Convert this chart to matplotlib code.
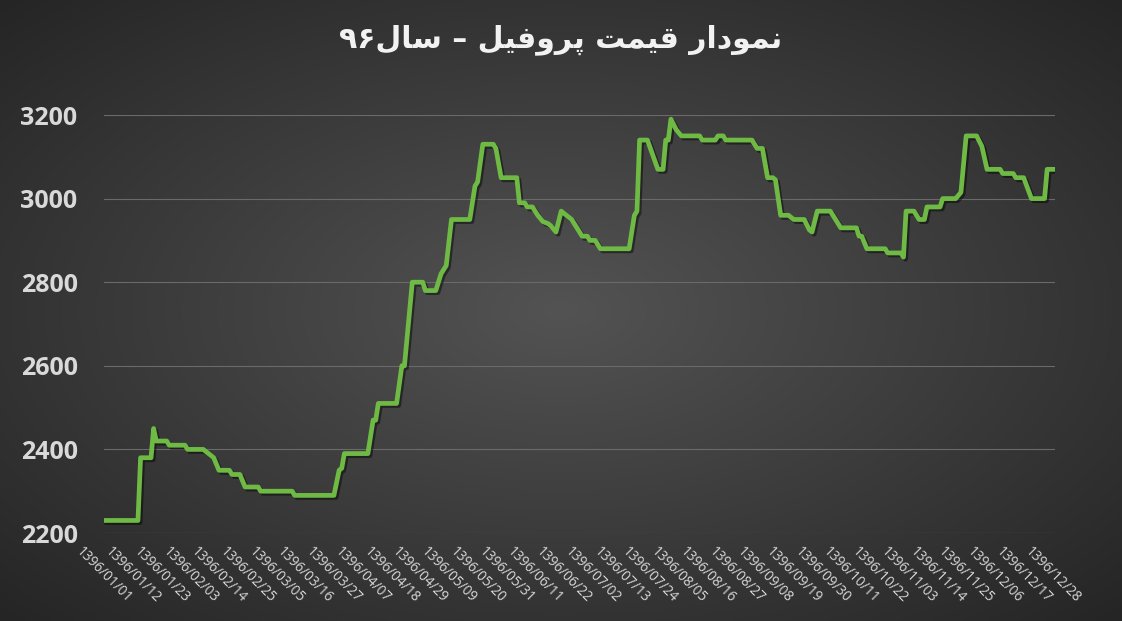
import numpy as np
import matplotlib
matplotlib.use("Agg")
import matplotlib.pyplot as plt
import matplotlib.patheffects as pe
import matplotlib.transforms as mtransforms

# day of year (1396/01/01 = 0) and profile price
day_of_year = [0, 13, 14, 18, 19, 20, 24, 25, 31, 32, 38, 40, 42, 44, 48, 49, 52, 54, 59, 60,
               72, 73, 88, 90, 91, 92, 101, 103, 104, 105, 112, 114, 115, 118, 122, 123, 127, 128, 129, 131,
               133, 140, 142, 143, 145, 149, 150, 152, 158, 159, 161, 162, 164, 166, 168, 170, 171, 173, 175, 177,
               179, 181, 183, 185, 186, 188, 190, 201, 203, 204, 205, 208, 212, 214, 215, 216, 217, 219, 221, 228,
               229, 234, 235, 237, 238, 248, 250, 252, 253, 254, 256, 257, 259, 262, 264, 268, 270, 271, 273, 278,
               279, 280, 282, 288, 289, 290, 292, 299, 300, 305, 306, 307, 310, 312, 314, 315, 320, 321, 326, 328,
               330, 334, 336, 338, 343, 344, 348, 349, 352, 355, 360, 361, 364]
price = [2230, 2230, 2380, 2380, 2450, 2420, 2420, 2410, 2410, 2400, 2400, 2390, 2380, 2350, 2350, 2340, 2340, 2310, 2310, 2300,
         2300, 2290, 2290, 2350, 2355, 2390, 2390, 2470, 2470, 2510, 2510, 2600, 2600, 2800, 2800, 2780, 2780, 2800, 2820, 2840,
         2950, 2950, 3030, 3040, 3130, 3130, 3120, 3050, 3050, 2990, 2990, 2980, 2980, 2960, 2945, 2940, 2935, 2920, 2970, 2960,
         2950, 2930, 2910, 2910, 2900, 2900, 2880, 2880, 2960, 2970, 3140, 3140, 3070, 3070, 3140, 3140, 3190, 3165, 3150, 3150,
         3140, 3140, 3150, 3150, 3140, 3140, 3120, 3120, 3085, 3050, 3050, 3045, 2960, 2960, 2950, 2950, 2925, 2920, 2970, 2970,
         2960, 2950, 2930, 2930, 2910, 2910, 2880, 2880, 2870, 2870, 2860, 2970, 2970, 2950, 2950, 2980, 2980, 3000, 3000, 3015,
         3150, 3150, 3125, 3070, 3070, 3060, 3060, 3050, 3050, 3000, 3000, 3070, 3070]

tick_labels = ['1396/01/01', '1396/01/12', '1396/01/23', '1396/02/03', '1396/02/14', '1396/02/25',
               '1396/03/05', '1396/03/16', '1396/03/27', '1396/04/07', '1396/04/18', '1396/04/29',
               '1396/05/09', '1396/05/20', '1396/05/31', '1396/06/11', '1396/06/22', '1396/07/02',
               '1396/07/13', '1396/07/24', '1396/08/05', '1396/08/16', '1396/08/27', '1396/09/08',
               '1396/09/19', '1396/09/30', '1396/10/11', '1396/10/22', '1396/11/03', '1396/11/14',
               '1396/11/25', '1396/12/06', '1396/12/17', '1396/12/28']
y_ticks = [2200, 2400, 2600, 2800, 3000, 3200]

# "نمودار قیمت پروفیل – سال۹۶" in shaped glyphs, visual (left to right) order
title_text = ('\u06F9\u06F6' + '\uFEDD\uFE8E\uFEB3' + ' \u2013 ' +
              '\uFEDE\uFEF4\uFED3\uFEED\uFEAE\uFB58' + ' ' +
              '\uFE96\uFEE4\uFEF4\uFED7' + ' ' +
              '\uFEAD\uFE8D\uFEA9\uFEEE\uFEE4\uFEE7')

month_len = [31, 31, 31, 31, 31, 31, 30, 30, 30, 30, 30, 29]


def persian_day(label):
    y, m, d = [int(p) for p in label.split('/')]
    return sum(month_len[:m - 1]) + d - 1


tick_pos = [persian_day(t) for t in tick_labels]

fig = plt.figure(figsize=(11.22, 6.21), dpi=100)

# radial gradient background
bg = fig.add_axes([0, 0, 1, 1], zorder=-10)
gx, gy = np.meshgrid(np.linspace(-1, 1, 400), np.linspace(-1, 1, 240))
r = np.sqrt(gx ** 2 + gy ** 2) / np.sqrt(2)
shade = (0x53 - (0x53 - 0x25) * r) / 255.0
bg.imshow(np.dstack([shade, shade, shade]), aspect='auto', extent=[0, 1, 0, 1])
bg.axis('off')

ax = fig.add_axes([104 / 1122, 1 - 533 / 621, 951 / 1122, 418 / 621])
ax.set_facecolor('none')

ax.plot(day_of_year, price, color='#6fba45', lw=3.4, solid_joinstyle='round', solid_capstyle='round',
        path_effects=[pe.SimpleLineShadow(offset=(1.5, -1.5), shadow_color='black', alpha=0.45), pe.Normal()],
        zorder=3)

ax.set_xlim(0, 364)
ax.set_ylim(2200, 3200)
ax.set_yticks(y_ticks)
ax.set_yticklabels([str(v) for v in y_ticks], fontfamily='Open Sans', fontweight='bold', fontsize=18,
                   color='#d9d9d9')
ax.set_xticks(tick_pos)
ax.set_xticklabels(tick_labels, rotation=-45, ha='center', va='top', fontfamily='Open Sans', fontsize=9.8,
                   color='#d9d9d9')
shift = mtransforms.ScaledTranslation(-6 / 100, 0, fig.dpi_scale_trans)
for lab in ax.get_xticklabels():
    lab.set_transform(lab.get_transform() + shift)
ax.tick_params(axis='y', length=0, pad=19)
ax.tick_params(axis='x', length=0, pad=8)
ax.grid(axis='y', color='#6a6a6a', lw=0.8)
for s in ax.spines.values():
    s.set_visible(False)

fig.text(0.5, 1 - 40 / 621, title_text, ha='center', va='center', fontsize=21.5, fontweight='bold',
         family=['DejaVu Sans'], color='#f2f2f2')

fig.savefig('out.png', dpi=100)
